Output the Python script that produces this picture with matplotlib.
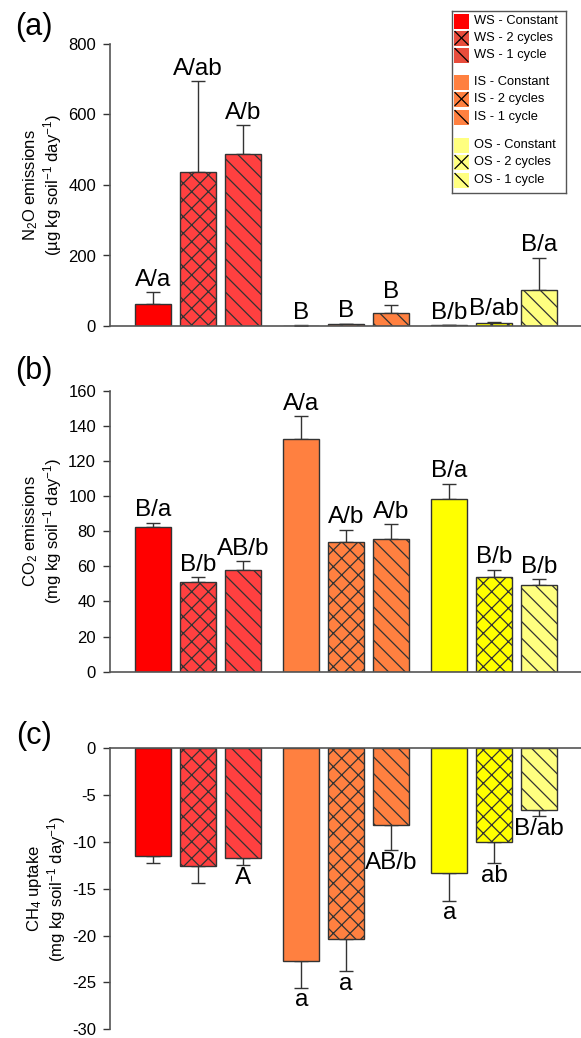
import numpy as np
import matplotlib
matplotlib.use("Agg")
import matplotlib.pyplot as plt
from matplotlib.patches import Rectangle

plt.rcParams["font.family"] = ["Liberation Sans", "DejaVu Sans"]
plt.rcParams["mathtext.default"] = "regular"
plt.rcParams["axes.unicode_minus"] = False
plt.rcParams["hatch.color"] = "black"
plt.rcParams["hatch.linewidth"] = 0.9

# treatments: soil x wetting regime
treatments = ["WS - Constant", "WS - 2 cycles", "WS - 1 cycle",
              "IS - Constant", "IS - 2 cycles", "IS - 1 cycle",
              "OS - Constant", "OS - 2 cycles", "OS - 1 cycle"]
bar_colors = ["#FF0000", "#FF4040", "#FF4040",
              "#FF8040", "#FF8040", "#FF8040",
              "#FFFF00", "#FFFF00", "#FFFF80"]
legend_colors = ["#FF0000", "#E84C3C", "#E84C3C",
                 "#FF8040", "#FF8040", "#FF8040",
                 "#FFFF80", "#FFFF80", "#FFFF80"]
hatches = ["", "xx", "\\\\", "", "xx", "\\\\", "", "xx", "\\\\"]

# (a) N2O emissions
n2o = [62, 437, 488, 1, 5, 38, 2, 8, 102]
n2o_err = [34, 258, 82, 1, 2, 22, 1, 4, 92]
n2o_lab = ["A/a", "A/ab", "A/b", "B", "B", "B", "B/b", "B/ab", "B/a"]

# (b) CO2 emissions
co2 = [82.6, 50.9, 57.9, 132.7, 73.7, 75.4, 98.3, 53.9, 49.4]
co2_err = [2.3, 3.0, 5.0, 12.7, 7.2, 8.5, 8.7, 4.2, 3.2]
co2_lab = ["B/a", "B/b", "AB/b", "A/a", "A/b", "A/b", "B/a", "B/b", "B/b"]

# (c) CH4 uptake
ch4 = [-11.5, -12.55, -11.7, -22.7, -20.4, -8.25, -13.3, -10.0, -6.6]
ch4_err = [0.8, 1.85, 0.8, 2.9, 3.4, 2.65, 3.0, 2.3, 0.7]
ch4_lab = ["", "", "A", "a", "a", "AB/b", "a", "ab", "B/ab"]

# bar positions: 3 groups of 3
xpos = np.array([g * 3.3 + j for g in range(3) for j in range(3)])

W, H = 581, 1038
fig = plt.figure(figsize=(W / 100, H / 100), dpi=100)


def add_ax(top, bottom):
    return fig.add_axes([110 / W, 1 - bottom / H, 1 - 110 / W, (bottom - top) / H])


def draw_panel(ax, vals, errs, labs, ylim, yticks, ylabel, tag, tag_y):
    vals = np.array(vals)
    errs = np.array(errs)
    ax.bar(xpos, vals, width=0.8, color=bar_colors, edgecolor="#333333",
           linewidth=1.0, hatch=hatches, zorder=2)
    neg = vals < 0
    lower = np.where(neg, errs, 0)
    upper = np.where(neg, 0, errs)
    ax.errorbar(xpos, vals, yerr=[lower, upper], fmt="none", ecolor="#333333",
                elinewidth=1.0, capsize=5, capthick=1.0, zorder=1)
    for x, v, e, t in zip(xpos, vals, errs, labs):
        if not t:
            continue
        if v < 0:
            ax.annotate(t, (x, v - e), xytext=(0, -1), textcoords="offset points",
                        ha="center", va="top", fontsize=17.5)
        else:
            ax.annotate(t, (x, v + e), xytext=(0, 1), textcoords="offset points",
                        ha="center", va="bottom", fontsize=17.5)
    ax.set_xlim(-0.96, xpos[-1] + 0.93)
    ax.set_ylim(*ylim)
    ax.set_yticks(yticks)
    ax.tick_params(axis="y", direction="out", length=5, width=1, colors="#333333",
                   labelcolor="black", labelsize=12, pad=5)
    ax.tick_params(axis="x", bottom=False, labelbottom=False)
    for s in ["left", "bottom", "top", "right"]:
        ax.spines[s].set_color("#555555")
        ax.spines[s].set_linewidth(1.2)
    ax.spines["right"].set_visible(False)
    ax.set_ylabel(ylabel, fontsize=12, labelpad=3, linespacing=1.05)
    fig.text(34 / W, 1 - tag_y / H, tag, fontsize=22, ha="center", va="center")


ax_a = add_ax(44, 326)
draw_panel(ax_a, n2o, n2o_err, n2o_lab, (0, 800), [0, 200, 400, 600, 800],
           "N$_2$O emissions\n(µg kg soil$^{-1}$ day$^{-1}$)", "(a)", 27)
ax_a.spines["top"].set_visible(False)

ax_b = add_ax(390.7, 671.7)
draw_panel(ax_b, co2, co2_err, co2_lab, (0, 160), np.arange(0, 161, 20),
           "CO$_2$ emissions\n(mg kg soil$^{-1}$ day$^{-1}$)", "(b)", 371)
ax_b.spines["top"].set_visible(False)

ax_c = add_ax(748, 1029.3)
draw_panel(ax_c, ch4, ch4_err, ch4_lab, (-30, 0), np.arange(-30, 1, 5),
           "CH$_4$ uptake\n(mg kg soil$^{-1}$ day$^{-1}$)", "(c)", 736)
ax_c.spines["bottom"].set_visible(False)

# legend box drawn by hand to keep the group gaps
lx0, lx1, ly0, ly1 = 452, 566, 11, 193
leg = fig.add_axes([lx0 / W, 1 - ly1 / H, (lx1 - lx0) / W, (ly1 - ly0) / H])
leg.set_xlim(lx0, lx1)
leg.set_ylim(ly1, ly0)
leg.set_xticks([])
leg.set_yticks([])
for s in leg.spines.values():
    s.set_color("#555555")
    s.set_linewidth(1.0)
row_y = [21, 38, 55, 82, 99, 117, 145, 162, 180]
for ry, name, c, h in zip(row_y, treatments, legend_colors, hatches):
    x0, y0, sz = 454, ry - 7.5, 15
    leg.add_patch(Rectangle((x0, y0), sz, sz, facecolor=c, edgecolor="none"))
    if h:
        leg.plot([x0 + 1, x0 + sz - 1], [y0 + 1, y0 + sz - 1], color="black", lw=0.9)
    if h.startswith("x"):
        leg.plot([x0 + 1, x0 + sz - 1], [y0 + sz - 1, y0 + 1], color="black", lw=0.9)
    leg.text(474, ry, name, fontsize=9.3, va="center", ha="left")

fig.savefig("out.png", dpi=100)
